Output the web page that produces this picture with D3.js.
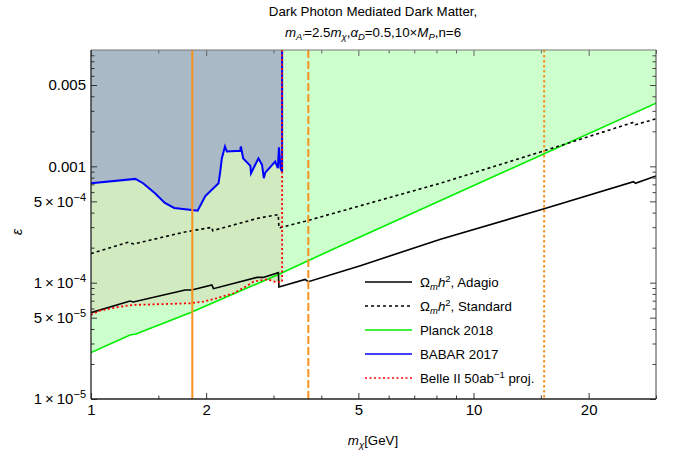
<!DOCTYPE html>
<html>
<head>
<meta charset="utf-8">
<script src="https://cdn.jsdelivr.net/npm/d3@7"></script>
<style>
  body { margin: 0; background: #fff; }
  svg { font-family: 'Liberation Sans', Arial, sans-serif; }
  .tick text { font-family: 'Liberation Sans', Arial, sans-serif; }
</style>
</head>
<body>
<svg width="673" height="457"></svg>
<script>
// relic-density curves, Planck, BABAR and Belle II bounds
const adagioX = [1, 1.265, 1.29, 1.762, 1.835, 2.07, 2.09, 2.716, 2.82, 3.09, 3.10, 3.63, 3.70, 5.06, 8.2, 15.3, 26.2, 26.5, 30];
const adagioY = [5.52e-5, 6.96e-5, 6.82e-5, 8.65e-5, 8.65e-5, 9.55e-5, 8.88e-5, 1.11e-4, 1.11e-4, 1.22e-4, 9.18e-5, 1.065e-4, 1.02e-4, 1.40e-4, 2.36e-4, 4.32e-4, 7.38e-4, 7.15e-4, 8.26e-4];

const standardX = [1, 1.252, 1.292, 1.762, 2.07, 2.08, 2.735, 3.087, 3.10, 3.63, 8.2, 15.3, 26.2, 26.5, 30];
const standardY = [1.78e-4, 2.23e-4, 2.15e-4, 2.73e-4, 2.99e-4, 2.80e-4, 3.58e-4, 3.85e-4, 2.95e-4, 3.37e-4, 7.16e-4, 1.36e-3, 2.39e-3, 2.28e-3, 2.56e-3];

const planckX = [1, 1.265, 1.31, 1.816, 3.07, 4.48, 30];
const planckY = [2.51e-5, 3.55e-5, 3.62e-5, 5.52e-5, 1.165e-4, 2.07e-4, 3.49e-3];

const babarX = [1, 1.306, 1.368, 1.47, 1.56, 1.65, 1.835, 1.90, 1.99, 2.155, 2.177, 2.198, 2.24, 2.265, 2.455, 2.465, 2.50, 2.61, 2.62, 2.74, 2.80, 2.83, 2.855, 3.03, 3.08, 3.10, 3.13, 3.16, 3.16];
const babarY = [7.16e-4, 7.80e-4, 7.16e-4, 5.87e-4, 4.84e-4, 4.39e-4, 4.22e-4, 4.16e-4, 5.56e-4, 7.16e-4, 8.99e-4, 1.17e-3, 1.48e-3, 1.34e-3, 1.36e-3, 1.48e-3, 1.17e-3, 1.008e-3, 8.71e-4, 1.17e-3, 1.03e-3, 7.91e-4, 8.83e-4, 1.10e-3, 9.64e-4, 1.46e-3, 9.64e-4, 8.99e-4, 1e-2];

const belleX = [1, 1.056, 1.191, 1.29, 1.816, 1.97, 2.13, 2.36, 2.556, 2.66, 2.885, 3.06, 3.16, 3.16];
const belleY = [5.28e-5, 5.75e-5, 6.22e-5, 6.43e-5, 6.65e-5, 6.87e-5, 7.34e-5, 8.11e-5, 9.37e-5, 1.02e-4, 1.07e-4, 1.007e-4, 1.02e-4, 1e-2];

// orange vertical markers
const markerX = [1.84, 3.70, 15.3];
const markerDash = [null, '8,3', '2.5,2.5'];

// axis ticks
const xMajor = [1, 2, 5, 10, 20];
const xMinor = [1.5, 3, 4, 6, 7, 8, 9, 15, 30];
const yMajor = [1e-5, 5e-5, 1e-4, 5e-4, 1e-3, 5e-3];
const yMajorLabels = [['1', '-5'], ['5', '-5'], ['1', '-4'], ['5', '-4'], ['0.001'], ['0.005']];
const yMinor = [];
[1e-5, 1e-4, 1e-3].forEach(function (d) {
  [2, 3, 4, 6, 7, 8, 9].forEach(function (m) { yMinor.push(d * m); });
});

const legendNames = ['Adagio', 'Standard', 'Planck 2018', 'BABAR 2017', 'Belle II'];

var svg = d3.select('svg');
// note: "top" is reserved on window, so use prefixed names
var pL = 91, pR = 656, pT = 50, pB = 399;

var x = d3.scaleLog().domain([1, 30]).range([pL, pR]);
var y = d3.scaleLog().domain([1e-5, 1e-2]).range([pB, pT]);

function pts(xs, ys) {
  return xs.map(function (d, i) { return [d, ys[i]]; });
}
var line = d3.line().x(function (d) { return x(d[0]); }).y(function (d) { return y(d[1]); });

svg.append('defs').append('clipPath').attr('id', 'clip')
  .append('rect').attr('x', pL).attr('y', pT).attr('width', pR - pL).attr('height', pB - pT);

var plot = svg.append('g').attr('clip-path', 'url(#clip)');

// filled regions
var planckPoly = pts(planckX, planckY).concat([[30, 1e-2], [1, 1e-2]]);
plot.append('path').attr('d', line(planckPoly) + 'Z').attr('fill', '#ccffcc');

var bellePoly = pts(belleX, belleY).concat([[1, 1e-2]]);
plot.append('path').attr('d', line(bellePoly) + 'Z').attr('fill', '#d1eabf');

var babarPoly = pts(babarX, babarY).concat([[1, 1e-2]]);
plot.append('path').attr('d', line(babarPoly) + 'Z').attr('fill', '#a9b9c5');

// curves
plot.append('path').attr('d', line(pts(planckX, planckY)))
  .attr('fill', 'none').attr('stroke', '#00ee00').attr('stroke-width', 1.6);
plot.append('path').attr('d', line(pts(adagioX, adagioY)))
  .attr('fill', 'none').attr('stroke', '#000').attr('stroke-width', 1.6);
plot.append('path').attr('d', line(pts(standardX, standardY)))
  .attr('fill', 'none').attr('stroke', '#000').attr('stroke-width', 1.6).attr('stroke-dasharray', '3,3');
plot.append('path').attr('d', line(pts(babarX, babarY)))
  .attr('fill', 'none').attr('stroke', '#0000ff').attr('stroke-width', 2);
plot.append('path').attr('d', line(pts(belleX, belleY)))
  .attr('fill', 'none').attr('stroke', '#ff0000').attr('stroke-width', 1.8).attr('stroke-dasharray', '2,2.5');

plot.selectAll('line.marker')
  .data(markerX)
  .enter()
  .append('line')
  .attr('class', 'marker')
  .attr('x1', function (d) { return x(d); })
  .attr('x2', function (d) { return x(d); })
  .attr('y1', pT)
  .attr('y2', pB)
  .attr('stroke', '#f7921e')
  .attr('stroke-width', 2)
  .attr('stroke-dasharray', function (d, i) { return markerDash[i]; });

// axes (ticks point inward)
function styleAxis(g, color) {
  g.select('.domain').remove();
  g.selectAll('.tick line').attr('stroke', color);
}

var gx = svg.append('g').attr('transform', 'translate(0,' + pB + ')')
  .call(d3.axisBottom(x).tickValues(xMajor).tickSize(-6).tickPadding(5).tickFormat(d3.format('d')));
gx.call(styleAxis, '#333');
gx.selectAll('text').attr('font-size', 15).attr('fill', '#000');
svg.append('g').attr('transform', 'translate(0,' + pB + ')')
  .call(d3.axisBottom(x).tickValues(xMinor).tickSize(-3.5).tickFormat(''))
  .call(styleAxis, '#333');

svg.append('g').attr('transform', 'translate(0,' + pT + ')')
  .call(d3.axisTop(x).tickValues(xMajor).tickSize(-6).tickFormat(''))
  .call(styleAxis, '#666');
svg.append('g').attr('transform', 'translate(0,' + pT + ')')
  .call(d3.axisTop(x).tickValues(xMinor).tickSize(-3.5).tickFormat(''))
  .call(styleAxis, '#666');

var gy = svg.append('g').attr('transform', 'translate(' + pL + ',0)')
  .call(d3.axisLeft(y).tickValues(yMajor).tickSize(-6).tickPadding(5).tickFormat(''));
gy.call(styleAxis, '#333');
gy.selectAll('.tick text').each(function (d, i) {
  var t = d3.select(this).attr('font-size', 15).attr('fill', '#000');
  var lab = yMajorLabels[i];
  if (lab.length === 1) {
    t.text(lab[0]);
  } else {
    t.append('tspan').text(lab[0] + '\u2009\u00d7\u200910');
    t.append('tspan').attr('dy', -6).attr('font-size', 11).text(lab[1].replace('-', '\u2212'));
  }
});
svg.append('g').attr('transform', 'translate(' + pL + ',0)')
  .call(d3.axisLeft(y).tickValues(yMinor).tickSize(-3.5).tickFormat(''))
  .call(styleAxis, '#333');

svg.append('g').attr('transform', 'translate(' + pR + ',0)')
  .call(d3.axisRight(y).tickValues(yMajor).tickSize(-6).tickFormat(''))
  .call(styleAxis, '#444');
svg.append('g').attr('transform', 'translate(' + pR + ',0)')
  .call(d3.axisRight(y).tickValues(yMinor).tickSize(-3.5).tickFormat(''))
  .call(styleAxis, '#444');

// frame
svg.append('line').attr('x1', pL).attr('x2', pR).attr('y1', pT).attr('y2', pT).attr('stroke', '#777');
svg.append('line').attr('x1', pR).attr('x2', pR).attr('y1', pT).attr('y2', pB).attr('stroke', '#444');
svg.append('line').attr('x1', pL).attr('x2', pL).attr('y1', pT).attr('y2', pB).attr('stroke', '#222').attr('stroke-width', 1.3);
svg.append('line').attr('x1', pL).attr('x2', pR).attr('y1', pB).attr('y2', pB).attr('stroke', '#222').attr('stroke-width', 1.3);

// title
var title = svg.append('text').attr('x', 373).attr('y', 16).attr('text-anchor', 'middle').attr('font-size', 13.3);
title.text('Dark Photon Mediated Dark Matter,');
var t2 = svg.append('text').attr('x', 373).attr('y', 37).attr('text-anchor', 'middle').attr('font-size', 13.3);
t2.append('tspan').attr('font-style', 'italic').text('m');
t2.append('tspan').attr('font-style', 'italic').attr('font-size', 9.5).attr('dy', 3).text('A\u2032');
t2.append('tspan').attr('dy', -3).text('=2.5');
t2.append('tspan').attr('font-style', 'italic').text('m');
t2.append('tspan').attr('font-style', 'italic').attr('font-size', 9.5).attr('dy', 3).text('\u03c7');
t2.append('tspan').attr('dy', -3).text(',');
t2.append('tspan').attr('font-style', 'italic').text('\u03b1');
t2.append('tspan').attr('font-style', 'italic').attr('font-size', 9.5).attr('dy', 3).text('D');
t2.append('tspan').attr('dy', -3).text('=0.5,10\u00d7');
t2.append('tspan').attr('font-style', 'italic').text('M');
t2.append('tspan').attr('font-style', 'italic').attr('font-size', 9.5).attr('dy', 3).text('P');
t2.append('tspan').attr('dy', -3).text(',n=6');

// axis labels
var xl = svg.append('text').attr('x', 373).attr('y', 445).attr('text-anchor', 'middle').attr('font-size', 13.3);
xl.append('tspan').attr('font-style', 'italic').text('m');
xl.append('tspan').attr('font-style', 'italic').attr('font-size', 9.5).attr('dy', 3).text('\u03c7');
xl.append('tspan').attr('dy', -3).text('[GeV]');

svg.append('text').attr('transform', 'translate(22,232) rotate(-90)')
  .attr('text-anchor', 'middle').attr('font-size', 14).attr('font-style', 'italic').text('\u03b5');

// legend
var legY = [282, 306, 330, 354, 378];
var legStyle = [
  { c: '#000', d: null },
  { c: '#000', d: '3,3' },
  { c: '#00ee00', d: null },
  { c: '#0000ff', d: null },
  { c: '#ff0000', d: '2,2.5' }
];
var leg = svg.append('g').attr('class', 'legend');
legendNames.forEach(function (name, i) {
  leg.append('line').attr('x1', 365).attr('x2', 412).attr('y1', legY[i]).attr('y2', legY[i])
    .attr('stroke', legStyle[i].c).attr('stroke-width', 1.6).attr('stroke-dasharray', legStyle[i].d);
  var t = leg.append('text').attr('x', 420).attr('y', legY[i] + 4.5).attr('font-size', 13.3);
  if (i < 2) {
    t.append('tspan').text('\u03a9');
    t.append('tspan').attr('font-style', 'italic').attr('font-size', 9.5).attr('dy', 3).text('m');
    t.append('tspan').attr('font-style', 'italic').attr('dy', -3).text('h');
    t.append('tspan').attr('font-size', 9.5).attr('dy', -5).text('2');
    t.append('tspan').attr('dy', 5).text(', ' + name);
  } else if (i === 4) {
    t.append('tspan').text('Belle II 50ab');
    t.append('tspan').attr('font-size', 9.5).attr('dy', -5).text('\u22121');
    t.append('tspan').attr('dy', 5).text(' proj.');
  } else {
    t.text(name);
  }
});
</script>
</body>
</html>
